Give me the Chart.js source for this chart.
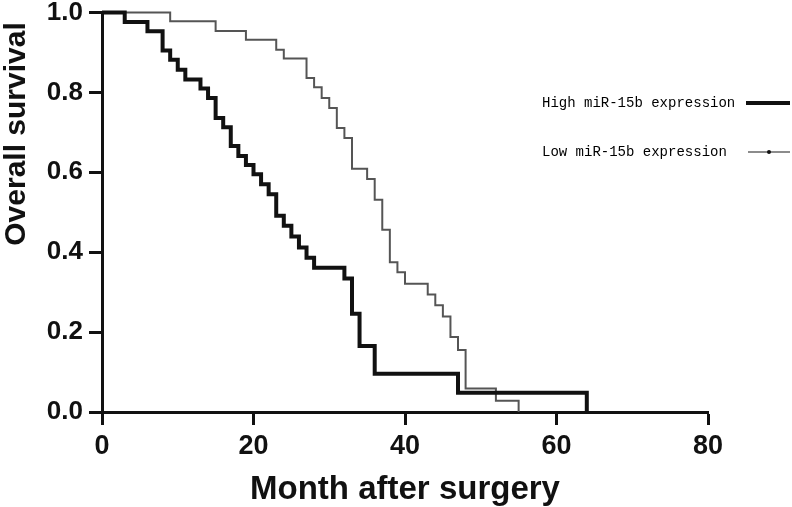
<!DOCTYPE html>
<html>
<head>
<meta charset="UTF-8">
<script src="https://cdn.jsdelivr.net/npm/chart.js"></script>
<style>
  body { margin: 0; background: #fff; }
</style>
</head>
<body>
<canvas id="km" width="792" height="507"></canvas>
<script>
// Kaplan-Meier steps: month of the drop and the survival after it
const highMonths = [0, 3, 6, 8, 9, 10, 11, 13, 14, 15, 16, 17, 18, 19, 20, 21, 22, 23, 24, 25, 26, 27, 28, 32, 33, 34, 36, 47, 64];
const highSurv   = [1, 0.976, 0.953, 0.905, 0.882, 0.857, 0.832, 0.810, 0.786, 0.736, 0.713, 0.666, 0.641, 0.618, 0.595, 0.570, 0.545, 0.491, 0.466, 0.439, 0.412, 0.386, 0.361, 0.334, 0.246, 0.165, 0.096, 0.048, 0];

const lowMonths = [0, 9, 15, 19, 23, 24, 27, 28, 29, 30, 31, 32, 33, 35, 36, 37, 38, 39, 40, 43, 44, 45, 46, 47, 48, 52, 55];
const lowSurv   = [1, 0.978, 0.954, 0.932, 0.907, 0.885, 0.836, 0.813, 0.786, 0.761, 0.711, 0.686, 0.609, 0.583, 0.531, 0.456, 0.375, 0.350, 0.321, 0.294, 0.267, 0.239, 0.188, 0.155, 0.059, 0.028, 0];

const seriesNames = ['High miR-15b expression', 'Low miR-15b expression'];
const yTitle = 'Overall survival';

const toPts = (xs, ys) => xs.map((x, i) => ({ x: x, y: ys[i] }));

// legend over the right side + y title (it sits high, not centred on the axis)
const extrasPlugin = {
  id: 'extras',
  afterDraw(chart) {
    const c = chart.ctx;
    c.save();
    c.font = '14px "Liberation Mono"';
    c.fillStyle = '#000';
    c.textBaseline = 'middle';
    c.fillText(seriesNames[0], 542, 103);
    c.fillText(seriesNames[1], 542, 152);
    c.strokeStyle = '#111';
    c.lineWidth = 4;
    c.beginPath(); c.moveTo(746, 103); c.lineTo(790, 103); c.stroke();
    c.strokeStyle = '#666';
    c.lineWidth = 1.5;
    c.beginPath(); c.moveTo(748, 152); c.lineTo(790, 152); c.stroke();
    c.fillStyle = '#111';
    c.beginPath(); c.arc(769, 152, 2, 0, Math.PI * 2); c.fill();

    c.translate(25, 134);
    c.rotate(-Math.PI / 2);
    c.font = 'bold 30px "Liberation Sans"';
    c.textAlign = 'center';
    c.textBaseline = 'alphabetic';
    c.fillText(yTitle, 0, 0);
    c.restore();
  }
};

new Chart(document.getElementById('km'), {
  type: 'line',
  data: {
    datasets: [
      {
        label: seriesNames[0],
        data: toPts(highMonths, highSurv),
        stepped: true,
        borderColor: '#111',
        borderWidth: 4,
        pointRadius: 0,
        fill: false,
        clip: 6
      },
      {
        label: seriesNames[1],
        data: toPts(lowMonths, lowSurv),
        stepped: true,
        borderColor: '#555',
        borderWidth: 2,
        pointRadius: 0,
        fill: false,
        clip: 6
      }
    ]
  },
  options: {
    responsive: false,
    animation: false,
    layout: { padding: { left: 0, top: 11, right: 84, bottom: 0 } },
    plugins: { legend: { display: false }, tooltip: { enabled: false } },
    scales: {
      x: {
        type: 'linear',
        min: 0, max: 80,
        ticks: { stepSize: 20, color: '#111', font: { family: 'Liberation Sans', weight: 'bold', size: 27 }, padding: 5 },
        grid: { drawOnChartArea: false, drawTicks: true, tickLength: 13, tickWidth: 3, color: '#111' },
        border: { display: true, width: 3, color: '#111' },
        title: { display: true, text: 'Month after surgery', color: '#111', font: { family: 'Liberation Sans', weight: 'bold', size: 33 }, padding: { top: 0, bottom: -3 } },
        afterFit(s) { s.height = 95; }
      },
      y: {
        min: 0, max: 1,
        ticks: { stepSize: 0.2, color: '#111', callback: v => v.toFixed(1), font: { family: 'Liberation Sans', weight: 'bold', size: 26, lineHeight: 0.5 }, padding: 6 },
        grid: { drawOnChartArea: false, drawTicks: true, tickLength: 13, tickWidth: 3, color: '#111' },
        border: { display: true, width: 3, color: '#111' },
        afterFit(s) { s.width = 102; }
      }
    }
  },
  plugins: [extrasPlugin]
});
</script>
</body>
</html>
